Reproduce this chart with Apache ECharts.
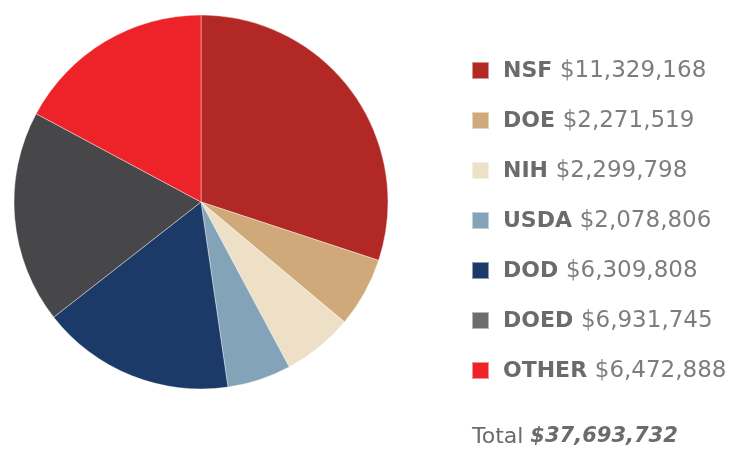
<!DOCTYPE html>
<html>
<head>
<meta charset="utf-8">
<script src="https://cdn.jsdelivr.net/npm/echarts@6/dist/echarts.min.js"></script>
<style>
  html, body { margin: 0; padding: 0; background: #fff; }
  #chart { width: 734px; height: 452px; }
</style>
</head>
<body>
<div id="chart"></div>
<script>
const agencies = ['NSF', 'DOE', 'NIH', 'USDA', 'DOD', 'DOED', 'OTHER']
const amounts = [11329168, 2271519, 2299798, 2078806, 6309808, 6931745, 6472888]
const sliceColors = ['#b22825', '#d0a97a', '#ede0c6', '#82a3b8', '#1b3a67', '#474749', '#ee2229']
const legendColors = ['#b22825', '#d0a97a', '#ede0c6', '#82a3b8', '#1b3a67', '#6d6d70', '#ee2229']

const fmt = v => '$' + v.toLocaleString('en-US')
const total = amounts.reduce((a, b) => a + b, 0)
const font = '"DejaVu Sans", sans-serif'

const chart = echarts.init(document.getElementById('chart'))

chart.setOption({
    animation: false,
    title: {
        left: 472,
        top: 426,
        padding: 0,
        text: '{a|Total }{b|' + fmt(total) + '}',
        textStyle: {
            fontWeight: 'normal',
            rich: {
                a: { fontFamily: font, fontSize: 22, color: '#6b6b6e', fontWeight: 'normal', lineHeight: 22 },
                b: { fontFamily: font, fontSize: 21, color: '#6b6b6e', fontWeight: 'bold', fontStyle: 'italic', lineHeight: 22 }
            }
        }
    },
    legend: {
        orient: 'vertical',
        left: 471,
        top: 60,
        padding: 0,
        itemWidth: 17,
        itemHeight: 17,
        itemGap: 27,
        icon: 'rect',
        data: agencies.map((name, i) => ({ name, itemStyle: { color: legendColors[i] } })),
        formatter: name => {
            const i = agencies.indexOf(name)
            return '{n|' + name + ' }{v|' + fmt(amounts[i]) + '}'
        },
        textStyle: {
            padding: [2, 0, 0, 9],
            rich: {
                n: { fontFamily: font, fontSize: 22, fontWeight: 'bold', color: '#6b6b6e' },
                v: { fontFamily: font, fontSize: 23, color: '#7d7d80' }
            }
        }
    },
    series: [{
        type: 'pie',
        center: [201, 202],
        radius: 187,
        startAngle: 90,
        clockwise: true,
        label: { show: false },
        labelLine: { show: false },
        emphasis: { disabled: true },
        itemStyle: { borderColor: 'rgba(255,255,255,0.5)', borderWidth: 0.8 },
        data: agencies.map((name, i) => ({
            name,
            value: amounts[i],
            itemStyle: { color: sliceColors[i] }
        }))
    }]
})
</script>
</body>
</html>
